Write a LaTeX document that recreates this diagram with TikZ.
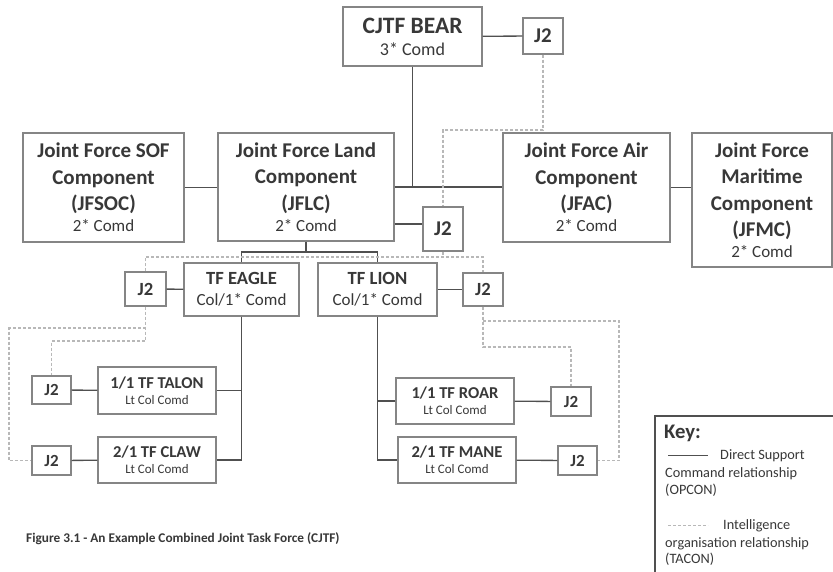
\documentclass[tikz,border=0pt]{standalone}
\usepackage{fontspec}
\setmainfont{Carlito}
\definecolor{txt}{HTML}{383838}
\definecolor{boxgray}{HTML}{858585}
\definecolor{linegray}{HTML}{505050}
\definecolor{dashgray}{HTML}{B8B8B8}
\tikzset{
  box/.style={draw=boxgray, line width=1.2pt, fill=white, text=txt, align=center, inner sep=0pt},
  conn/.style={draw=linegray, line width=1.3pt},
  intel/.style={draw=dashgray, line width=1.1pt, dash pattern=on 3pt off 2pt},
  keytext/.style={text=txt, anchor=base west, inner sep=0pt, font=\fontsize{14.3}{17}\selectfont},
}
\newcommand{\bigT}{\fontsize{21}{26.5}\selectfont\bfseries}
\newcommand{\comdT}[1]{{\fontsize{17}{21}\mdseries\selectfont #1}}
\begin{document}
\begin{tikzpicture}[x=1pt,y=-1pt]
\useasboundingbox[fill=white] (0,0) rectangle (833,572);
% top
\node[box, minimum width=139pt, minimum height=59pt, font=\fontsize{23.5}{22}\selectfont\bfseries] (bear) at (412.5,36.5) {CJTF BEAR\\{\fontsize{18}{22}\mdseries\selectfont 3* Comd}};
\node[box, minimum width=40pt, minimum height=36pt, font=\fontsize{21}{24}\selectfont\bfseries] (j2a) at (543,36) {J2};
% components
\node[box, minimum width=161pt, minimum height=109pt, font=\bigT] (soc) at (103.5,187.5) {Joint Force SOF\\Component\\(JFSOC)\\[-5.5pt]\comdT{2* Comd}};
\node[box, minimum width=176pt, minimum height=108pt, font=\bigT] (jflc) at (306,187) {Joint Force Land\\Component\\(JFLC)\\[-5.5pt]\comdT{2* Comd}};
\node[box, minimum width=40pt, minimum height=44pt, font=\fontsize{21}{24}\selectfont\bfseries] (j2b) at (443,229) {J2};
\node[box, minimum width=167pt, minimum height=109pt, font=\bigT] (jfac) at (586.5,187.5) {Joint Force Air\\Component\\(JFAC)\\[-5.5pt]\comdT{2* Comd}};
\node[box, minimum width=140pt, minimum height=134pt, font=\bigT] (jfmc) at (762,200) {Joint Force\\Maritime\\Component\\(JFMC)\\[-5.5pt]\comdT{2* Comd}};
% task forces
\node[box, minimum width=115pt, minimum height=53pt, font=\fontsize{18.6}{21}\selectfont\bfseries] (eagle) at (241.5,289.5) {TF EAGLE\\{\fontsize{17}{21}\mdseries\selectfont Col/1* Comd}};
\node[box, minimum width=119pt, minimum height=53pt, font=\fontsize{18.6}{21}\selectfont\bfseries] (lion) at (377.5,289.5) {TF LION\\{\fontsize{17}{21}\mdseries\selectfont Col/1* Comd}};
\node[box, minimum width=41pt, minimum height=34pt, font=\fontsize{18.6}{21}\selectfont\bfseries] (j2e) at (145.5,289) {J2};
\node[box, minimum width=40pt, minimum height=33pt, font=\fontsize{18.6}{21}\selectfont\bfseries] (j2l) at (483,289.5) {J2};
% battlegroups
\node[box, minimum width=118pt, minimum height=47pt, font=\fontsize{16.6}{16}\selectfont\bfseries] (talon) at (157,390.5) {1/1 TF TALON\\{\fontsize{13}{16}\mdseries\selectfont Lt Col Comd}};
\node[box, minimum width=118pt, minimum height=46pt, font=\fontsize{16.6}{16}\selectfont\bfseries] (claw) at (157,460) {2/1 TF CLAW\\{\fontsize{13}{16}\mdseries\selectfont Lt Col Comd}};
\node[box, minimum width=118pt, minimum height=46pt, font=\fontsize{16.6}{16}\selectfont\bfseries] (roar) at (455,401) {1/1 TF ROAR\\{\fontsize{13}{16}\mdseries\selectfont Lt Col Comd}};
\node[box, minimum width=118pt, minimum height=46pt, font=\fontsize{16.6}{16}\selectfont\bfseries] (mane) at (457,460) {2/1 TF MANE\\{\fontsize{13}{16}\mdseries\selectfont Lt Col Comd}};
\node[box, minimum width=39pt, minimum height=28pt, font=\fontsize{17}{20}\selectfont\bfseries] (j2t) at (51.5,390) {J2};
\node[box, minimum width=39pt, minimum height=29pt, font=\fontsize{17}{20}\selectfont\bfseries] (j2c) at (51.5,460.5) {J2};
\node[box, minimum width=40pt, minimum height=29pt, font=\fontsize{17}{20}\selectfont\bfseries] (j2r) at (571,401.5) {J2};
\node[box, minimum width=39pt, minimum height=29pt, font=\fontsize{17}{20}\selectfont\bfseries] (j2m) at (577.5,460.5) {J2};
% command connectors
\draw[conn] (bear) -- (j2a);
\draw[conn] (soc.east) -- (soc.east -| jflc.west);
\draw[conn] (jflc.east) -- (jflc.east -| jfac.west);
\draw[conn] (bear.south) -- (bear.south |- jflc.east);
\draw[conn] (jfac.east) -- (jfac.east -| jfmc.west);
\draw[conn] ([yshift=-37pt]jflc.east) -- ([yshift=-37pt]jflc.east -| j2b.west);
\coordinate (tree) at (306,252);
\draw[conn] (jflc.south) -- (tree);
\draw[conn] (eagle.north) |- (tree) -| (lion.north);
\draw[conn] (j2e) -- (eagle);
\draw[conn] (lion) -- (j2l);
\draw[conn] (eagle.south) -- (eagle.south |- claw.east) -- (claw.east);
\draw[conn] (talon.east) -- (talon.east -| eagle.south);
\draw[conn] (lion.south) -- (lion.south |- mane.west) -- (mane.west);
\draw[conn] (roar.west) -- (roar.west -| lion.south);
\draw[conn] (talon) -- (j2t);
\draw[conn] (claw) -- (j2c);
\draw[conn] (roar) -- (j2r);
\draw[conn] (mane) -- (j2m);
% intelligence connectors
\coordinate (ia) at (543,130);
\draw[intel] (j2a.south) -- (ia) -| (j2b.north);
\coordinate (ib) at (443,257);
\draw[intel] (j2b.south) -- (ib);
\draw[intel] (j2e.north) |- (ib) -| (j2l.north);
\coordinate (ic) at (145.5,341);
\draw[intel] (j2e.south) -- (ic) -| (j2t.north);
\coordinate (id) at (145.5,328);
\coordinate (ie) at (9,328);
\draw[intel] (id) -- (ie) |- (j2c.west);
\coordinate (ig) at (483,347);
\draw[intel] (j2l.south) -- (ig) -| (j2r.north);
\coordinate (ih) at (483,321);
\coordinate (ii) at (619,321);
\draw[intel] (ih) -- (ii) |- (j2m.east);
% key
\begin{scope}
\clip (0,0) rectangle (833,572);
\draw[draw=linegray, line width=1.2pt] (655,416) rectangle (845,590);
\end{scope}
\node[keytext, font=\fontsize{20.7}{24}\selectfont\bfseries] (keyt) at (664,438) {Key:};
\coordinate (k1a) at (668,455);
\coordinate (k1b) at (708,455);
\draw[draw=linegray, line width=1pt] (k1a) -- (k1b);
\node[keytext] (k1) at (720,459) {Direct Support};
\node[keytext] (k2) at (665,477) {Command relationship};
\node[keytext] (k3) at (665,494) {(OPCON)};
\coordinate (k2a) at (668,525);
\coordinate (k2b) at (708,525);
\draw[intel, line width=0.9pt] (k2a) -- (k2b);
\node[keytext] (k4) at (723,529) {Intelligence};
\node[keytext] (k5) at (665,547) {organisation relationship};
\node[keytext] (k6) at (665,563) {(TACON)};
% caption
\node[text=txt, anchor=base west, inner sep=0pt, font=\fontsize{13.3}{16}\selectfont\bfseries] (cap) at (26,542) {Figure 3.1 - An Example Combined Joint Task Force (CJTF)};
\end{tikzpicture}
\end{document}
